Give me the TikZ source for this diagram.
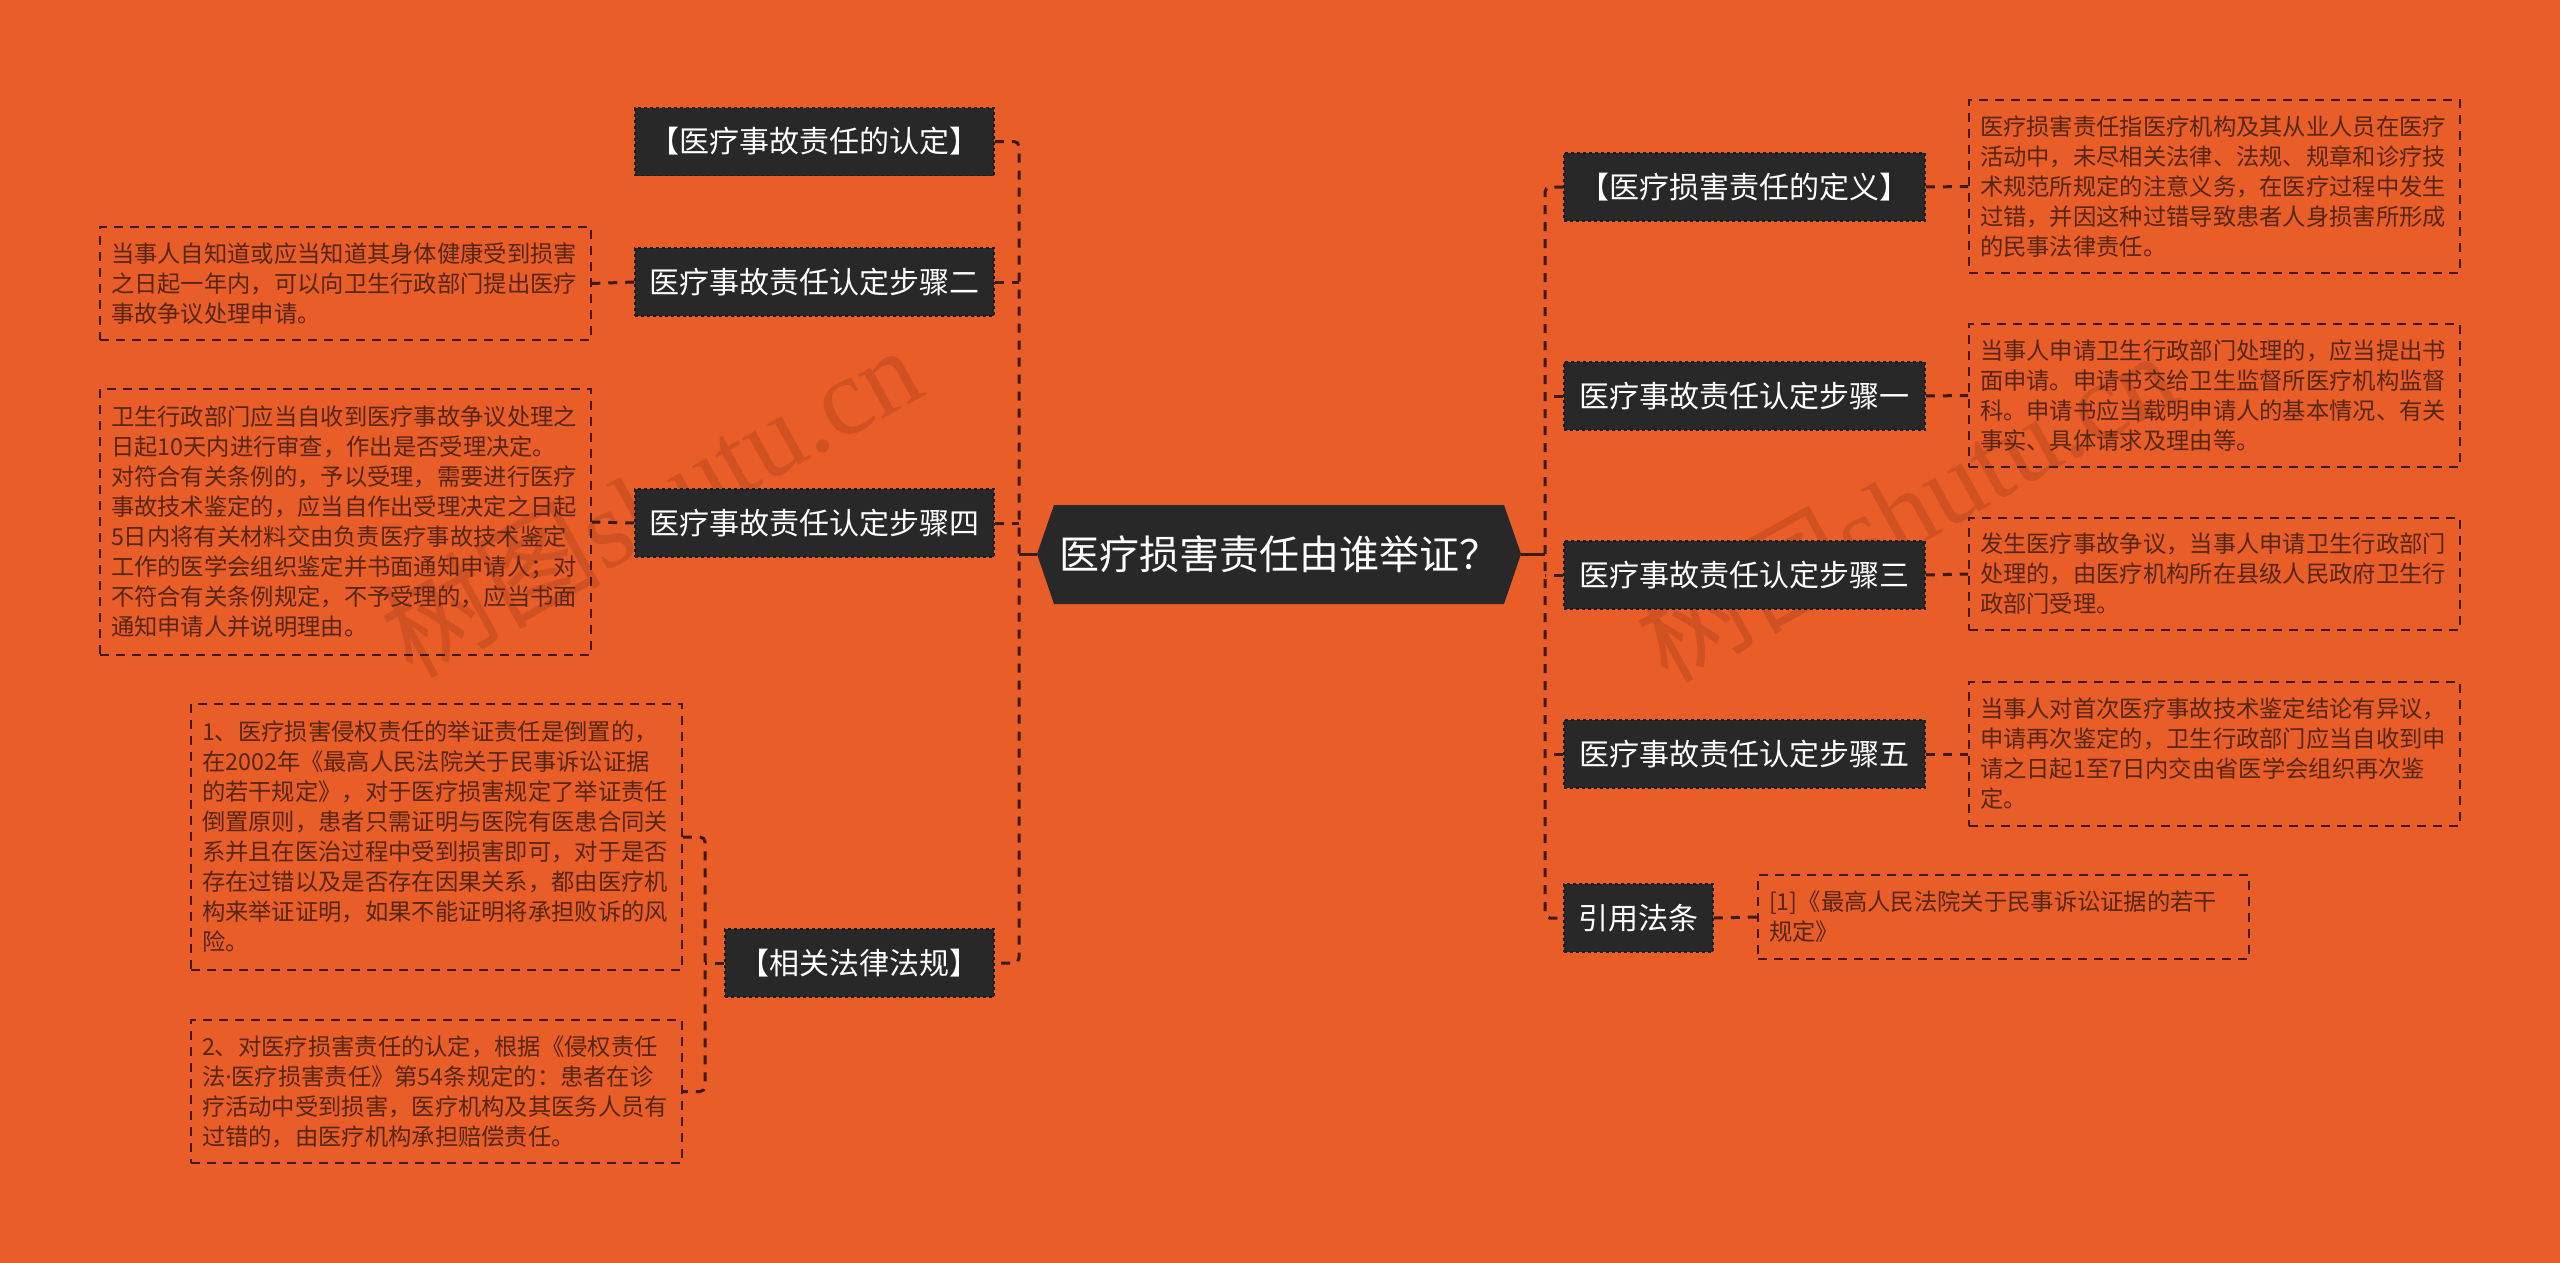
\documentclass[tikz,border=0pt]{standalone}
\usepackage{fontspec}
\setmainfont{Noto Sans CJK SC}
\newfontfamily\wmlat{Liberation Serif}
\newfontfamily\latf{Noto Sans}
\definecolor{bgc}{RGB}{233,93,40}
\definecolor{boxc}{RGB}{40,40,40}
\definecolor{boxline}{RGB}{26,26,26}
\definecolor{linec}{RGB}{60,26,12}
\definecolor{txtc}{RGB}{85,38,16}
\definecolor{wmc}{RGB}{122,40,16}
\begin{document}
\begin{tikzpicture}[x=1pt,y=-1pt,
  darkbox/.style={fill=boxc, draw=boxline, dashed, line width=1.5pt, text=white,
    font=\fontsize{30}{36}\selectfont, minimum height=68pt, inner sep=0pt},
  detail/.style={draw=linec, line width=1.8pt, dash pattern=on 9pt off 7pt, text=txtc,
    font=\fontsize{23.3}{30}\selectfont, text width=469pt, align=left,
    inner xsep=11pt, inner ysep=0pt, minimum width=491pt},
  conn/.style={draw=linec, line width=3pt, dash pattern=on 9pt off 8pt},
  solidconn/.style={draw=linec, line width=3pt},
  wm/.style={text=wmc, opacity=0.22, rotate=29, inner sep=0pt, font=\fontsize{110}{115}\selectfont}
]
% background
\fill[bgc] (0,0) rectangle (2560,1263);

% watermarks
\node[wm] (wm1) at (650,500) {树图{\wmlat shutu.cn}};
\node[wm] (wm2) at (1905,505) {树图{\wmlat shutu.cn}};

% centre
\fill[boxc] (1037,554) -- (1054,505) -- (1504,505) -- (1521,554) -- (1504,604) -- (1054,604) -- cycle;
\node[text=white, font=\fontsize{40}{48}\selectfont] (c) at (1279,554) {医疗损害责任由谁举证？};
\coordinate (cl) at (1037,554);
\coordinate (cr) at (1521,554);
\coordinate (jl) at (1019,554);
\coordinate (jr) at (1545,554);

% left main nodes
\node[darkbox, minimum width=359pt] (n1) at (814.5,141.5) {【医疗事故责任的认定】};
\node[darkbox, minimum width=359pt] (n2) at (814.5,282) {医疗事故责任认定步骤二};
\node[darkbox, minimum width=359pt] (n4) at (814.5,523) {医疗事故责任认定步骤四};
\node[darkbox, minimum width=269pt] (n6) at (859.5,963) {【相关法律法规】};

% right main nodes
\node[darkbox, minimum width=361pt] (r1) at (1744.5,187) {【医疗损害责任的定义】};
\node[darkbox, minimum width=361pt] (r2) at (1744.5,396) {医疗事故责任认定步骤一};
\node[darkbox, minimum width=361pt] (r3) at (1744.5,575) {医疗事故责任认定步骤三};
\node[darkbox, minimum width=361pt] (r5) at (1744.5,754) {医疗事故责任认定步骤五};
\node[darkbox, minimum width=149pt] (r6) at (1638.5,918) {引用法条};

% left details
\node[detail, minimum height=113pt] (d2) at (345.5,283.5) {当事人自知道或应当知道其身体健康受到损害\\之日起一年内，可以向卫生行政部门提出医疗\\事故争议处理申请。};
\node[detail, minimum height=266pt] (d4) at (345.5,522) {卫生行政部门应当自收到医疗事故争议处理之\\日起10天内进行审查，作出是否受理决定。\\对符合有关条例的，予以受理，需要进行医疗\\事故技术鉴定的，应当自作出受理决定之日起\\5日内将有关材料交由负责医疗事故技术鉴定\\工作的医学会组织鉴定并书面通知申请人；对\\不符合有关条例规定，不予受理的，应当书面\\通知申请人并说明理由。};
\node[detail, minimum height=266pt] (d6a) at (436.5,837) {1、医疗损害侵权责任的举证责任是倒置的，\\在2002年《最高人民法院关于民事诉讼证据\\的若干规定》，对于医疗损害规定了举证责任\\倒置原则，患者只需证明与医院有医患合同关\\系并且在医治过程中受到损害即可，对于是否\\存在过错以及是否存在因果关系，都由医疗机\\构来举证证明，如果不能证明将承担败诉的风\\险。};
\node[detail, minimum height=143pt] (d6b) at (436.5,1091.5) {2、对医疗损害责任的认定，根据《侵权责任\\法{\latf ·}医疗损害责任》第54条规定的：患者在诊\\疗活动中受到损害，医疗机构及其医务人员有\\过错的，由医疗机构承担赔偿责任。};
\coordinate (jb) at (705,963);

% right details
\node[detail, minimum height=173pt] (rd1) at (2214.5,186.5) {医疗损害责任指医疗机构及其从业人员在医疗\\活动中，未尽相关法律、法规、规章和诊疗技\\术规范所规定的注意义务，在医疗过程中发生\\过错，并因这种过错导致患者人身损害所形成\\的民事法律责任。};
\node[detail, minimum height=143pt] (rd2) at (2214.5,395.5) {当事人申请卫生行政部门处理的，应当提出书\\面申请。申请书交给卫生监督所医疗机构监督\\科。申请书应当载明申请人的基本情况、有关\\事实、具体请求及理由等。};
\node[detail, minimum height=112pt] (rd3) at (2214.5,574) {发生医疗事故争议，当事人申请卫生行政部门\\处理的，由医疗机构所在县级人民政府卫生行\\政部门受理。};
\node[detail, minimum height=144pt] (rd5) at (2214.5,754) {当事人对首次医疗事故技术鉴定结论有异议，\\申请再次鉴定的，卫生行政部门应当自收到申\\请之日起1至7日内交由省医学会组织再次鉴\\定。};
\node[detail, minimum height=84pt] (rd6) at (2003.5,917) {[1]《最高人民法院关于民事诉讼证据的若干\\规定》};

% connectors: centre to left branch
\draw[solidconn] (cl) -- (jl);
\draw[conn, rounded corners=5pt] (n1.east) -- (n1.east -| jl) -- (n6.east -| jl) -- (n6.east);
\draw[conn] (n2.east) -- (n2.east -| jl);
\draw[conn] (n4.east) -- (n4.east -| jl);

% centre to right branch
\draw[solidconn] (cr) -- (jr);
\draw[conn, rounded corners=5pt] (r1.west) -- (r1.west -| jr) -- (r6.west -| jr) -- (r6.west);
\draw[conn] (r2.west) -- (r2.west -| jr);
\draw[conn] (r3.west) -- (r3.west -| jr);
\draw[conn] (r5.west) -- (r5.west -| jr);

% nodes to details
\draw[conn] (n2.west) -- (d2.east);
\draw[conn] (n4.west) -- (d4.east);
\draw[conn] (n6.west) -- (jb);
\draw[conn, rounded corners=5pt] (d6a.east) -- (d6a.east -| jb) -- (d6b.east -| jb) -- (d6b.east);
\draw[conn] (r1.east) -- (rd1.west);
\draw[conn] (r2.east) -- (rd2.west);
\draw[conn] (r3.east) -- (rd3.west);
\draw[conn] (r5.east) -- (rd5.west);
\draw[conn] (r6.east) -- (rd6.west);
\end{tikzpicture}
\end{document}
